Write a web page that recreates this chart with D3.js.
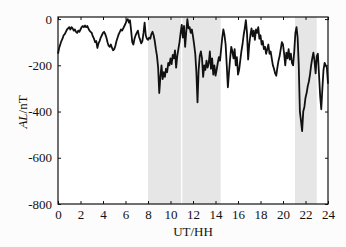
<!DOCTYPE html>
<html>
<head>
<meta charset="utf-8">
<script src="https://cdn.jsdelivr.net/npm/d3@7"></script>
<style>
  body { margin:0; background:#fcfcfc; }
  svg { display:block; }
  text { font-family:"Liberation Serif", "Times New Roman", serif; fill:#111; }
</style>
</head>
<body>
<svg id="chart" width="346" height="247"></svg>
<script>
var stepHours = 0.1;
var alValues = [
  -150,-125,-110,-95,-85,-70,-65,-55,-45,-40,
  -35,-45,-35,-40,-50,-45,-55,-60,-50,-55,
  -45,-35,-30,-35,-28,-35,-30,-40,-50,-55,
  -60,-75,-85,-100,-95,-125,-105,-95,-80,-70,
  -60,-55,-65,-80,-100,-115,-120,-110,-125,-135,
  -130,-115,-95,-80,-65,-55,-45,-50,-40,-30,
  -20,-5,0,-15,-5,-50,-100,-110,-85,-70,
  -60,-50,-75,-90,-105,-95,-60,-15,-70,-85,
  -90,-80,-85,-65,-55,-70,-95,-130,-160,-210,
  -320,-250,-200,-260,-230,-250,-215,-230,-190,-200,
  -170,-195,-155,-170,-135,-210,-160,-130,-100,-60,
  -25,-80,-30,-120,-55,0,-40,-35,-60,-45,
  -75,-110,-150,-230,-360,-220,-160,-140,-170,-250,
  -200,-220,-180,-210,-190,-140,-215,-170,-240,-200,
  -245,-220,-190,-165,-180,-130,-80,-45,-70,-110,
  -200,-295,-230,-170,-120,-140,-170,-130,-200,-165,
  -240,-220,-180,-140,-110,-70,-40,-5,-60,-175,
  -110,-70,-40,-75,-50,-90,-45,-60,-35,-85,
  -70,-110,-95,-130,-120,-150,-130,-110,-150,-140,
  -170,-200,-215,-235,-245,-210,-180,-160,-130,-100,
  -110,-150,-200,-145,-170,-130,-175,-150,-190,-200,
  -140,-60,-35,-80,-200,-400,-440,-485,-400,-380,
  -340,-320,-290,-270,-240,-200,-170,-145,-180,-235,
  -160,-150,-240,-330,-390,-300,-220,-190,-200,-210,
  -280
];
var shadeStart = [8.0, 11.05, 21.07];
var shadeEnd   = [10.93, 14.46, 23.0];
var xTicks = [0,2,4,6,8,10,12,14,16,18,20,22,24];
var yTicks = [0,-200,-400,-600,-800];

(function(){
var svg = d3.select('#chart');
var pad = {left:58, right:328, top:17, bottom:204};

var x = d3.scaleLinear().domain([0,24]).range([pad.left,pad.right]);
var y = d3.scaleLinear().domain([-800,9]).range([pad.bottom,pad.top]);
var w = pad.right - pad.left, h = pad.bottom - pad.top;

svg.append('rect').attr('x',pad.left).attr('y',pad.top)
  .attr('width',w).attr('height',h).attr('fill','#fff');

// shaded intervals
svg.selectAll('rect.shade')
  .data(shadeStart)
  .enter().append('rect')
  .attr('class','shade')
  .attr('x',function(d){ return x(d); })
  .attr('y',pad.top)
  .attr('width',function(d,i){ return x(shadeEnd[i]) - x(d); })
  .attr('height',h)
  .attr('fill','#e6e6e6');

var pts = alValues.map(function(v,i){ return [i*stepHours, v]; });
var line = d3.line()
  .x(function(d){ return x(d[0]); })
  .y(function(d){ return y(d[1]); });

svg.append('path').datum(pts)
  .attr('d',line)
  .attr('fill','none')
  .attr('stroke','#111')
  .attr('stroke-width',1.8)
  .attr('stroke-linejoin','round');

// axes, ticks point inward
var fmt = function(d){ return d; };
function styleText(g){
  g.select('.domain').remove();
  g.selectAll('text').attr('font-size',13).attr('font-family','Liberation Serif').attr('fill','#111');
}
svg.append('g').attr('transform','translate(0,'+pad.bottom+')')
  .call(d3.axisBottom(x).tickValues(xTicks).tickSizeInner(-3).tickSizeOuter(0).tickPadding(6).tickFormat(fmt))
  .call(styleText);
svg.append('g').attr('transform','translate(0,'+pad.top+')')
  .call(d3.axisTop(x).tickValues(xTicks).tickSizeInner(-3).tickSizeOuter(0).tickFormat(''))
  .call(styleText);
svg.append('g').attr('transform','translate('+pad.left+',0)')
  .call(d3.axisLeft(y).tickValues(yTicks).tickSizeInner(-3).tickSizeOuter(0).tickPadding(6).tickFormat(fmt))
  .call(styleText);
svg.append('g').attr('transform','translate('+pad.right+',0)')
  .call(d3.axisRight(y).tickValues(yTicks).tickSizeInner(-3).tickSizeOuter(0).tickFormat(''))
  .call(styleText);
svg.selectAll('.tick line').attr('stroke','#111');

svg.append('rect').attr('x',pad.left).attr('y',pad.top)
  .attr('width',w).attr('height',h)
  .attr('fill','none').attr('stroke','#111').attr('stroke-width',1.2);

svg.append('text').attr('x',(pad.left+pad.right)/2).attr('y',236)
  .attr('text-anchor','middle').attr('font-size',13).text('UT/HH');

var yl = svg.append('text')
  .attr('transform','translate(27,112) rotate(-90)')
  .attr('text-anchor','middle').attr('font-size',13);
yl.append('tspan').attr('font-style','italic').text('AL');
yl.append('tspan').text('/nT');
})();
</script>
</body>
</html>
